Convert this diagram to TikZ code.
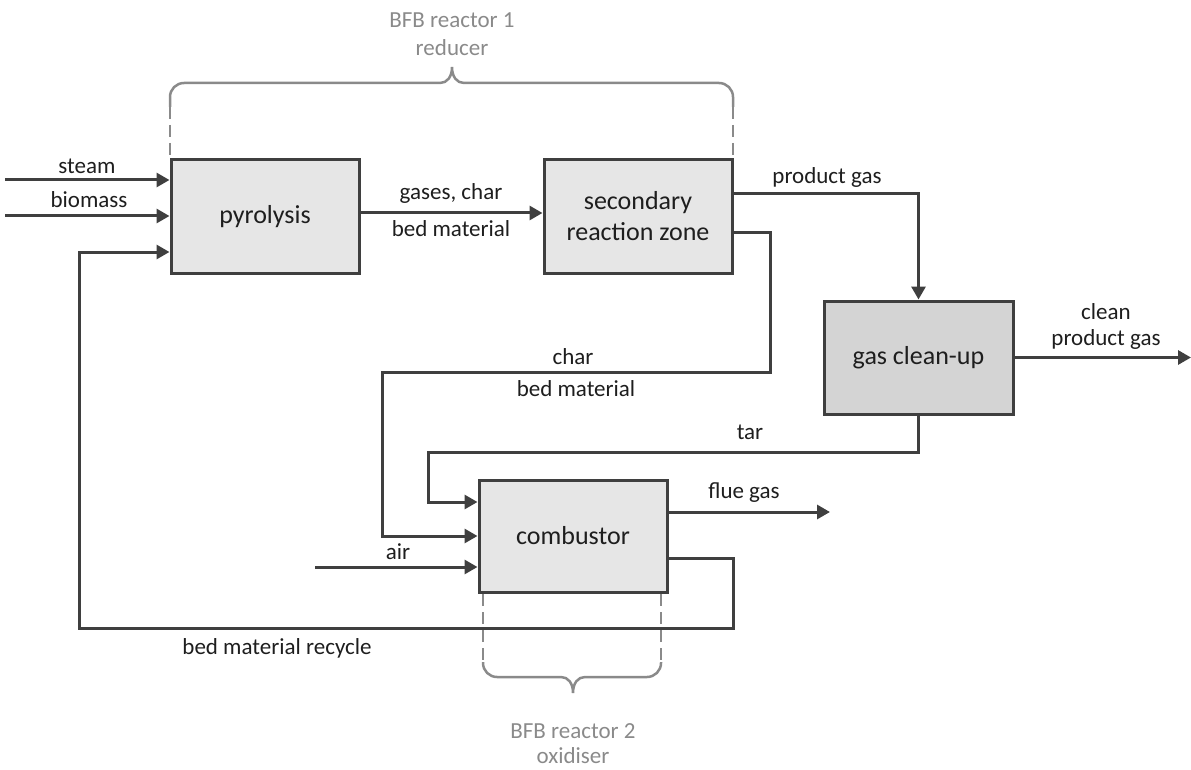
\documentclass[tikz,border=0pt]{standalone}
\usepackage{fontspec}
\setmainfont{Carlito}
\usetikzlibrary{arrows.meta}
\definecolor{lc}{HTML}{3F3F3F}
\definecolor{txt}{HTML}{1E1E1E}
\definecolor{boxfill}{HTML}{E6E6E6}
\definecolor{boxdark}{HTML}{D4D4D4}
\definecolor{brc}{HTML}{8A8A8A}
\tikzset{
  procbox/.style={draw=lc, line width=3pt, fill=boxfill, minimum width=188pt, minimum height=113pt,
    inner sep=0pt, align=center, text=txt, font=\fontsize{26}{31}\selectfont},
  flow/.style={draw=lc, line width=3pt},
  arr/.style={flow, -{Triangle[length=13pt,width=14pt]}},
  lbl/.style={text=txt, font=\fontsize{23}{27}\selectfont, align=center, inner sep=0pt},
  glbl/.style={text=brc, font=\fontsize{23}{28}\selectfont, align=center, inner sep=0pt},
  bracesolid/.style={draw=brc, line width=2.5pt},
  bracedash/.style={draw=brc, line width=2.5pt, dash pattern=on 12pt off 6pt}
}
\begin{document}
\begin{tikzpicture}[x=1pt,y=-1pt]
\useasboundingbox (0,0) rectangle (1191,770);

% boxes
\node[procbox] (pyr) at (265,216.5) {pyrolysis};
\node[procbox] (sec) at (638,216.5) {secondary\\reaction zone};
\node[procbox, minimum width=189pt, fill=boxdark] (gcu) at (918.5,357.5) {gas clean-up};
\node[procbox, minimum height=112pt] (comb) at (573,536) {combustor};

% free ends
\coordinate (steamin) at (5,180);
\coordinate (biomin) at (5,216);
\coordinate (airin) at (315,567);
\coordinate (flueout) at (830,512);
\coordinate (cleanout) at (1191,357.5);

% inputs to pyrolysis
\draw[arr] (steamin) -- (steamin -| pyr.west);
\draw[arr] (biomin) -- (biomin -| pyr.west);
\node[lbl] (lsteam) at (87,166) {steam};
\node[lbl] (lbiom) at (89,200) {biomass};

% pyrolysis -> secondary
\draw[arr] ([yshift=3.5pt]pyr.east) -- ([yshift=3.5pt]sec.west);
\node[lbl] (lgases) at (451,193) {gases, char};
\node[lbl] (lbed1) at (451,229) {bed material};

% product gas
\draw[arr] ([yshift=22.5pt]sec.east) -| (gcu.north);
\node[lbl] (lprod) at (827,177) {product gas};

% clean product gas
\draw[arr] (gcu.east) -- (cleanout);
\node[lbl] (lclean1) at (1106,312) {clean};
\node[lbl] (lclean2) at (1106,339) {product gas};

% char / bed material to combustor
\draw[arr] ([yshift=-15.5pt]sec.east) -| (770,372) -| (382,536) -- (comb.west);
\node[lbl] (lchar) at (573,357) {char};
\node[lbl] (lbed2) at (576,389) {bed material};

% tar
\draw[arr] (gcu.south) |- (428,452) |- ([yshift=34pt]comb.west);
\node[lbl] (ltar) at (750,432) {tar};

% air
\draw[arr] (airin) -- (airin -| comb.west);
\node[lbl] (lair) at (398,552) {air};

% flue gas
\draw[arr] (flueout -| comb.east) -- (flueout);
\node[lbl] (lflue) at (744,493) {flue gas};

% bed material recycle
\draw[arr] ([yshift=-22pt]comb.east) -| (733,628) -| (79,252) -- ([yshift=-35.5pt]pyr.west);
\node[lbl] (lrec) at (277,648) {bed material recycle};

% top brace
\draw[bracedash] (170,107) -- (170,160);
\draw[bracesolid] (170,107) -- (170,97) arc[start angle=180, end angle=90, radius=14pt]
  -- (440,83) .. controls (447,83) and (452,77) .. (452,67)
  .. controls (452,77) and (457,83) .. (464,83) -- (719,83)
  arc[start angle=90, end angle=0, radius=14pt] -- (733,107);
\draw[bracedash] (733,107) -- (733,160);
\node[glbl] (lbfb1a) at (452,20) {BFB reactor 1};
\node[glbl] (lbfb1b) at (452,48) {reducer};

% bottom brace
\draw[bracedash] (483,594) -- (483,662);
\draw[bracedash] (661,594) -- (661,662);
\draw[bracesolid] (483,662) -- (483,663) arc[start angle=180, end angle=270, radius=14pt]
  -- (561,677) .. controls (568,677) and (573,683) .. (573,693)
  .. controls (573,683) and (578,677) .. (585,677) -- (647,677)
  arc[start angle=270, end angle=360, radius=14pt] -- (661,662);
\node[glbl] (lbfb2a) at (573,731) {BFB reactor 2};
\node[glbl] (lbfb2b) at (573,756) {oxidiser};
\end{tikzpicture}
\end{document}
